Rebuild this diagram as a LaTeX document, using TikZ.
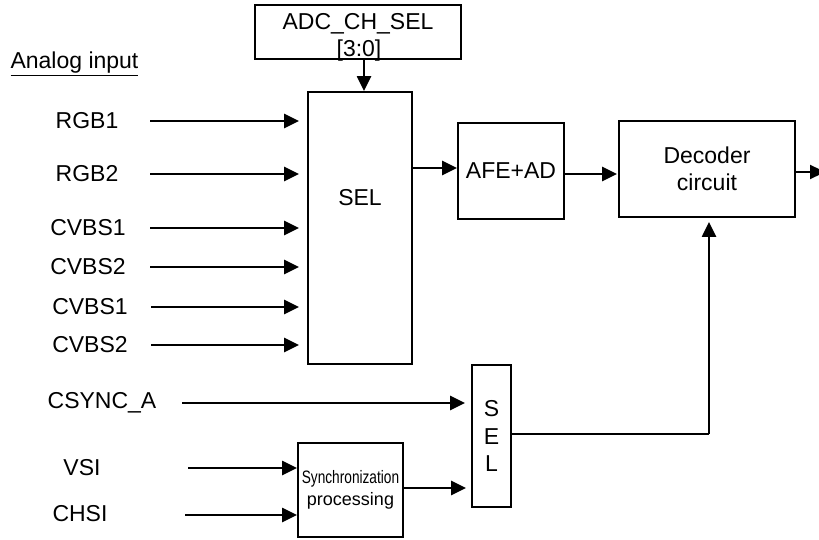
\documentclass[tikz,border=0pt]{standalone}
\usepackage{fontspec}
\setmainfont{Liberation Sans}
\usetikzlibrary{arrows.meta}
\begin{document}
\begin{tikzpicture}[x=1pt,y=-1pt,
  every node/.style={font=\fontsize{23}{27.5}\selectfont, inner sep=0pt},
  blk/.style={draw, line width=1.8pt, rectangle, inner sep=0pt},
  txt/.style={},
  arr/.style={line width=2.3pt, -{Triangle[length=15pt,width=14pt]}},
  wire/.style={line width=1.8pt}]
\useasboundingbox (0,0) rectangle (819,540);
\fill[white] (0,0) rectangle (819,540);
% blocks
\node[blk, minimum width=206pt, minimum height=54pt] (adc) at (358,32) {};
\node[txt] (adct1) at (358,24) {ADC\_CH\_SEL};
\node[txt] (adct2) at (359,51) {[3:0]};
\node[blk, minimum width=104pt, minimum height=272pt] (sel) at (360,228) {};
\node[txt] (selt) at (360,198) {SEL};
\node[blk, minimum width=106pt, minimum height=96pt] (afe) at (511,171) {AFE+AD};
\node[blk, minimum width=176pt, minimum height=96pt, align=center] (dec) at (707,169) {Decoder\\circuit};
\node[blk, minimum width=39pt, minimum height=142pt, align=center] (sel2) at (491.5,436) {S\\E\\L};
\node[blk, minimum width=105pt, minimum height=94pt, align=center,
  font=\fontsize{18}{22}\selectfont] (sync) at (350.5,490) {\scalebox{0.76}[1]{Synchronization}\\processing};
% labels
\node[txt] (ai) at (74.5,64) {\underline{Analog input}};
\node[txt] (l1) at (87,121) {RGB1};
\node[txt] (l2) at (87,174) {RGB2};
\node[txt] (l3) at (88,228) {CVBS1};
\node[txt] (l4) at (88,267) {CVBS2};
\node[txt] (l5) at (90,307) {CVBS1};
\node[txt] (l6) at (90,345) {CVBS2};
\node[txt] (lc) at (102,403) {CSYNC\_A};
\node[txt] (lv) at (82,468) {VSI};
\node[txt] (lh) at (80,514) {CHSI};
% start coordinates
\coordinate (s1) at (150,121);
\coordinate (s2) at (150,174);
\coordinate (s3) at (150,228);
\coordinate (s4) at (150,267);
\coordinate (s5) at (151,307);
\coordinate (s6) at (151,345);
\coordinate (sc) at (182,403);
\coordinate (sv) at (188,468);
\coordinate (sh) at (185,515);
\coordinate (out) at (825,172);
\coordinate (jn) at (709,434);
\coordinate (ca) at (364,0);
% arrows
\foreach \s in {s1,s2,s3,s4,s5,s6}
  \draw[arr, shorten >=8pt] (\s) -- (\s -| sel.west);
\draw[arr, shorten >=6pt] (sc) -- (sc -| sel2.west);
\draw[arr] (sv) -- (sv -| sync.west);
\draw[arr] (sh) -- (sh -| sync.west);
\draw[arr, shorten >=5pt] (sync.east |- 0,488) -- (sel2.west |- 0,488);
\draw[arr] (ca |- adc.south) -- (ca |- sel.north);
\draw[arr] (sel.east |- 0,168) -- (afe.west |- 0,168);
\draw[arr, shorten >=1pt] (afe.east |- 0,174) -- (dec.west |- 0,174);
\draw[arr] (dec.east |- out) -- (out);
\draw[wire, line width=1.5pt] (sel2.east |- jn) -- (jn);
\draw[arr, shorten >=4pt] (jn) -- (jn |- dec.south);
\end{tikzpicture}
\end{document}
